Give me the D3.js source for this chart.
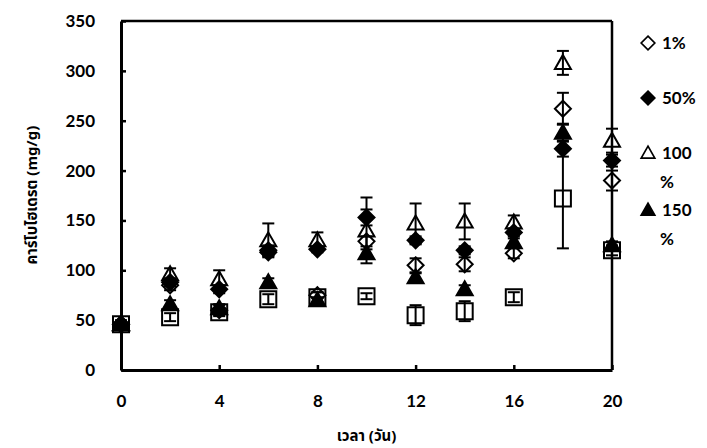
<!DOCTYPE html>
<html><head><meta charset="utf-8">
<script src="https://cdn.jsdelivr.net/npm/d3@7/dist/d3.min.js"></script>
<style>body{margin:0;background:#fff}</style>
</head><body>
<svg id="c" width="707" height="448"></svg>
<script>
const days = [0, 2, 4, 6, 8, 10, 12, 14, 16, 18, 20];
const xTicks = [0, 4, 8, 12, 16, 20];
const yTicks = [0, 50, 100, 150, 200, 250, 300, 350];
const seriesNames = ["control", "1%", "50%", "100 %", "150 %"];
const controlVals = [46, 53, 58, 71, 73, 74, 55, 59, 73, 172, 120];
const controlErr  = [4, 4, 4, 5, 5, 3, 10, 10, 5, 50, 5];
const p1Vals   = [46, 85, 60, 120, 75, 129, 105, 106, 117, 262, 190];
const p1Err    = [0, 5, 5, 5, 3, 5, 7, 7, 5, 16, 10];
const p50Vals  = [46, 88, 81, 118, 121, 153, 130, 120, 138, 222, 210];
const p50Err   = [0, 4, 4, 4, 3, 8, 4, 4, 4, 8, 6];
const p100Vals = [46, 96, 91, 130, 130, 140, 147, 149, 148, 308, 230];
const p100Err  = [0, 6, 9, 17, 8, 33, 20, 18, 7, 12, 12];
const p150Vals = [46, 66, 62, 88, 70, 117, 93, 81, 128, 238, 125];
const p150Err  = [0, 4, 4, 4, 3, 4, 4, 4, 4, 9, 4];

const svg = d3.select("#c");
const x = d3.scaleLinear().domain([0, 20]).range([121, 612]);
const y = d3.scaleLinear().domain([0, 350]).range([370, 21]);
const FONT = "Lato, 'Noto Sans', sans-serif";
const THAI = "'Noto Sans Thai', 'Noto Sans', Lato, sans-serif";

const shapes = {
  square: "M-8,-8H8V8H-8Z",
  diamond: "M0,-8L8,0L0,8L-8,0Z",
  triangle: "M0,-8L8,6L-8,6Z"
};
const series = [
  {name: seriesNames[0], vals: controlVals, err: controlErr, shape: "square", filled: false},
  {name: seriesNames[4], vals: p150Vals, err: p150Err, shape: "triangle", filled: true},
  {name: seriesNames[2], vals: p50Vals, err: p50Err, shape: "diamond", filled: true},
  {name: seriesNames[3], vals: p100Vals, err: p100Err, shape: "triangle", filled: false},
  {name: seriesNames[1], vals: p1Vals, err: p1Err, shape: "diamond", filled: false}
];

// frame (top/right)
svg.append("line").attr("x1", x(0)).attr("x2", x(20)).attr("y1", y(350)).attr("y2", y(350))
  .attr("stroke", "#000").attr("stroke-width", 2.5);
svg.append("line").attr("x1", x(20)).attr("x2", x(20)).attr("y1", y(350)).attr("y2", y(0))
  .attr("stroke", "#000").attr("stroke-width", 2.5);

// axes
const gy = svg.append("g").attr("transform", `translate(${x(0)},0)`)
  .call(d3.axisLeft(y).tickValues(yTicks).tickSizeInner(-5).tickSizeOuter(0).tickPadding(26));
const gx = svg.append("g").attr("transform", `translate(0,${y(0)})`)
  .call(d3.axisBottom(x).tickValues(xTicks).tickSizeInner(-5).tickSizeOuter(0).tickPadding(25));
[gx, gy].forEach(g => {
  g.select(".domain").attr("stroke", "#000").attr("stroke-width", 3);
  g.selectAll(".tick line").attr("stroke", "#000").attr("stroke-width", 2.5);
  g.selectAll(".tick text").attr("fill", "#000").style("font-family", FONT)
    .style("font-size", "17px").style("font-weight", "bold");
});

// markers
series.forEach(s => {
  const g = svg.append("g");
  g.selectAll("path").data(days.map((d, i) => ({d, v: s.vals[i]}))).join("path")
    .attr("d", shapes[s.shape])
    .attr("transform", p => `translate(${x(p.d)},${y(p.v)})`)
    .attr("fill", s.filled ? "#000" : "none")
    .attr("stroke", "#000").attr("stroke-width", 2);
});
// error bars
series.forEach(s => {
  const g = svg.append("g");
  days.forEach((d, i) => {
    const e = s.err[i];
    if (!e) return;
    const cx = x(d), hi = y(s.vals[i] + e), lo = y(s.vals[i] - e);
    g.append("line").attr("x1", cx).attr("x2", cx).attr("y1", hi).attr("y2", lo)
      .attr("stroke", "#000").attr("stroke-width", 2);
    [hi, lo].forEach(yy => g.append("line").attr("x1", cx - 6).attr("x2", cx + 6)
      .attr("y1", yy).attr("y2", yy).attr("stroke", "#000").attr("stroke-width", 2));
  });
});

// legend
const legendOrder = [series[4], series[2], series[3], series[1]];
const legY = [43, 98, 153, 210];
legendOrder.forEach((s, i) => {
  const ly = legY[i];
  svg.append("path").attr("d", shapes[s.shape])
    .attr("transform", `translate(648,${ly}) scale(0.85)`)
    .attr("fill", s.filled ? "#000" : "none").attr("stroke", "#000").attr("stroke-width", 2);
  const parts = s.name.split(" ");
  parts.forEach((t, j) => {
    svg.append("text").attr("x", j === 0 ? 662 : 660).attr("y", ly + j * 29)
      .attr("dy", "0.35em").text(t)
      .style("font-family", FONT).style("font-size", "17px").style("font-weight", "bold");
  });
});

// axis titles
svg.append("text").attr("x", (x(0) + x(20)) / 2).attr("y", 436).attr("text-anchor", "middle")
  .attr("dy", "0.35em").text("เวลา (วัน)")
  .style("font-family", THAI).style("font-size", "15px").style("font-weight", "bold");
svg.append("text").attr("transform", `translate(32,195) rotate(-90)`).attr("text-anchor", "middle")
  .attr("dy", "0.35em").text("คาร์โบไฮเดรต (mg/g)")
  .style("font-family", THAI).style("font-size", "15px").style("font-weight", "bold");
</script>
</body></html>
